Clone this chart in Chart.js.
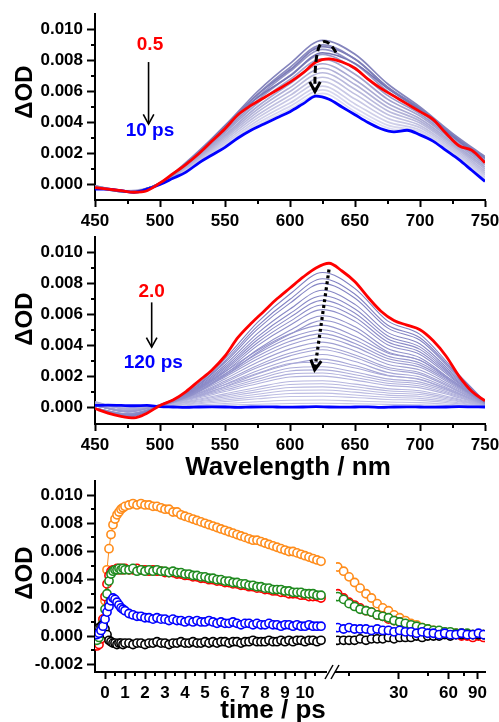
<!DOCTYPE html>
<html><head><meta charset="utf-8">
<script src="https://cdn.jsdelivr.net/npm/chart.js@4.4.0/dist/chart.umd.min.js"></script>
<style>
html,body{margin:0;padding:0;background:#fff;}
#wrap{position:relative;width:499px;height:722px;overflow:hidden;background:#fff;}
#wrap canvas{position:absolute;left:0;top:0;}
</style></head><body>
<div id="wrap">
<canvas id="c1" width="499" height="722"></canvas>
<canvas id="c2" width="499" height="722"></canvas>
<canvas id="c3" width="499" height="722"></canvas>
</div>
<script>
// ---------------- DATA ----------------
const wl10 = [450,460,470,480,490,500,510,520,530,540,550,560,570,580,590,600,610,620,630,640,650,660,670,680,690,700,710,720,730,740,750];
const wl25 = [450,475,500,525,550,575,600,625,650,675,700,725,750];
const wlTicks = [450,500,550,600,650,700,750];

// Panel 1: 0.5 ps (red) -> 10 ps (blue)
const p1Red05ps = [-0.0002,-0.0003,-0.0004,-0.0005,-0.0004,0.0001,0.0007,0.0013,0.0020,0.0028,0.0036,0.0045,0.0051,0.0056,0.0061,0.0066,0.0072,0.0079,0.0081,0.0079,0.0075,0.0068,0.0062,0.0057,0.0052,0.0047,0.0042,0.0033,0.0025,0.0022,0.0014];
const p1Blue10ps = [-0.0003,-0.0003,-0.0004,-0.0005,-0.0003,0.0000,0.0004,0.0008,0.0014,0.0019,0.0024,0.0030,0.0035,0.0039,0.0043,0.0047,0.0052,0.0057,0.0055,0.0050,0.0045,0.0040,0.0036,0.0034,0.0035,0.0032,0.0028,0.0022,0.0016,0.0009,0.0002];
const p1Gray = [
 [-0.0002,-0.0005,0.0001,0.0017,0.0037,0.0056,0.0070,0.0085,0.0078,0.0062,0.0048,0.0031,0.0015],
 [-0.0002,-0.0005,0.0001,0.0017,0.0038,0.0058,0.0074,0.0089,0.0081,0.0063,0.0049,0.0032,0.0017],
 [-0.0001,-0.0005,0.0001,0.0018,0.0038,0.0060,0.0078,0.0093,0.0084,0.0065,0.0050,0.0033,0.0018],
 [-0.0001,-0.00049,0.00009,0.00174,0.00369,0.00582,0.00755,0.00901,0.00809,0.00626,0.00486,0.00319,0.00167],
 [-0.0001,-0.00048,0.00008,0.00169,0.00358,0.00563,0.0073,0.00872,0.00778,0.00602,0.00471,0.00308,0.00154],
 [-0.0001,-0.00048,0.00008,0.00163,0.00345,0.00543,0.00703,0.0084,0.00743,0.00575,0.00455,0.00295,0.0014],
 [-0.0001,-0.00047,0.00007,0.00157,0.00334,0.00524,0.00678,0.00811,0.00711,0.00551,0.00441,0.00284,0.00127],
 [-0.0001,-0.00046,0.00006,0.00151,0.00321,0.00503,0.0065,0.00779,0.00676,0.00524,0.00424,0.00271,0.00113],
 [-0.0001,-0.00045,0.00005,0.00145,0.0031,0.00485,0.00625,0.0075,0.00645,0.005,0.0041,0.0026,0.001],
 [-0.0001,-0.00044,0.00004,0.00139,0.00299,0.00467,0.006,0.00721,0.00614,0.00476,0.00396,0.00249,0.00087],
 [-0.0001,-0.00043,0.00003,0.00134,0.00288,0.00448,0.00575,0.00692,0.00583,0.00452,0.00381,0.00238,0.00074],
 [-0.0001,-0.00043,0.00003,0.00128,0.00276,0.0043,0.00551,0.00664,0.00551,0.00428,0.00367,0.00226,0.00062],
 [-0.0001,-0.00042,0.00002,0.00123,0.00265,0.00411,0.00526,0.00635,0.0052,0.00404,0.00352,0.00215,0.00049],
 [-0.0001,-0.00041,0.00001,0.00118,0.00255,0.00395,0.00504,0.0061,0.00493,0.00383,0.0034,0.00205,0.00038],
 [-0.0001,-0.0004,0.00001,0.00114,0.00247,0.00382,0.00486,0.00588,0.0047,0.00365,0.00329,0.00197,0.00028]
];

// Panel 2: 2.0 ps (red) -> 120 ps (blue)
const p2Red2ps = [-0.0001,-0.0004,-0.0006,-0.0007,-0.0004,0.0001,0.00045,0.0010,0.0017,0.0024,0.0033,0.0045,0.0054,0.0062,0.0070,0.0077,0.0084,0.0090,0.0093,0.0088,0.0081,0.0071,0.0062,0.0056,0.0053,0.0050,0.0043,0.0033,0.0020,0.0010,0.0004];
const p2Blue120ps = [0.0001,0.00012,0.0001,0.00008,0.0001,0.00002,0.0000,-0.00002,0.0000,0.00001,0.0000,-0.00002,0.0000,0.00001,0.0000,-0.00001,0.0000,0.00002,0.0000,-0.00001,0.0000,0.00001,-0.00002,0.0000,0.00001,0.0000,-0.00001,0.0000,0.00002,0.00001,0.0000];
const p2Gray = [
 [-0.00009,-0.00066,0.00009,0.00122,0.00313,0.00548,0.00731,0.0087,0.00766,0.00557,0.0047,0.00252,0.00035],
 [-0.00008,-0.00063,0.00008,0.00116,0.00299,0.00523,0.00697,0.0083,0.0073,0.00531,0.00448,0.00241,0.00033],
 [-0.00008,-0.00061,0.00008,0.00112,0.00288,0.00504,0.00672,0.008,0.00704,0.00512,0.00432,0.00232,0.00032],
 [-0.00008,-0.00057,0.00008,0.00106,0.00272,0.00476,0.00634,0.00755,0.00664,0.00483,0.00408,0.00219,0.0003],
 [-0.00007,-0.00055,0.00007,0.00101,0.00259,0.00454,0.00605,0.0072,0.00634,0.00461,0.00389,0.00209,0.00029],
 [-0.00007,-0.00052,0.00007,0.00097,0.00248,0.00435,0.0058,0.0069,0.00607,0.00442,0.00373,0.002,0.00028],
 [-0.00007,-0.0005,0.00007,0.00092,0.00238,0.00416,0.00554,0.0066,0.00581,0.00422,0.00356,0.00191,0.00026],
 [-0.00006,-0.00048,0.00006,0.00088,0.00227,0.00397,0.00529,0.0063,0.00554,0.00403,0.0034,0.00183,0.00025],
 [-0.00006,-0.00045,0.00006,0.00083,0.00212,0.00372,0.00496,0.0059,0.00519,0.00378,0.00319,0.00171,0.00024],
 [-0.00006,-0.00043,0.00006,0.00078,0.00202,0.00353,0.0047,0.0056,0.00493,0.00358,0.00302,0.00162,0.00022],
 [0.00011,-0.00033,0.00016,0.00103,0.00228,0.00366,0.00474,0.0053,0.00458,0.0035,0.00302,0.0017,0.00024],
 [0.0001,-0.00032,0.00015,0.00098,0.00215,0.00345,0.00448,0.005,0.00433,0.0033,0.00285,0.0016,0.00023],
 [0.0001,-0.0003,0.00014,0.00093,0.00204,0.00328,0.00425,0.00475,0.00411,0.00314,0.00271,0.00152,0.00021],
 [0.00009,-0.00028,0.00014,0.00088,0.00194,0.00311,0.00403,0.0045,0.00389,0.00297,0.00257,0.00144,0.0002],
 [0.00008,-0.00026,0.00013,0.00082,0.00181,0.0029,0.00376,0.0042,0.00363,0.00277,0.00239,0.00134,0.00019],
 [0.00008,-0.00025,0.00012,0.00076,0.00168,0.00269,0.00349,0.0039,0.00337,0.00257,0.00222,0.00125,0.00018],
 [0.00007,-0.00023,0.00011,0.00072,0.00159,0.00255,0.00331,0.0037,0.0032,0.00244,0.00211,0.00118,0.00017],
 [0.00007,-0.00021,0.0001,0.00066,0.00146,0.00235,0.00304,0.0034,0.00294,0.00224,0.00194,0.00109,0.00015],
 [0.00006,-0.0002,0.00009,0.0006,0.00133,0.00214,0.00277,0.0031,0.00268,0.00205,0.00177,0.00099,0.00014],
 [0.00035,-0.00015,0.00015,0.00073,0.00145,0.00218,0.00281,0.0029,0.00252,0.00203,0.0018,0.00104,0.00015],
 [0.00031,-0.00013,0.00013,0.00065,0.0013,0.00195,0.00252,0.0026,0.00226,0.00182,0.00161,0.00094,0.00013],
 [0.00029,-0.00012,0.00012,0.0006,0.0012,0.0018,0.00233,0.0024,0.00209,0.00168,0.00149,0.00086,0.00012],
 [0.00026,-0.00011,0.00011,0.00055,0.0011,0.00165,0.00213,0.0022,0.00191,0.00154,0.00136,0.00079,0.00011],
 [0.00024,-0.0001,0.0001,0.0005,0.001,0.0015,0.00194,0.002,0.00174,0.0014,0.00124,0.00072,0.0001],
 [0.0002,-0.00009,0.00009,0.00043,0.00085,0.00128,0.00165,0.0017,0.00148,0.00119,0.00105,0.00061,0.00009],
 [0.00018,-0.00008,0.00008,0.00038,0.00075,0.00113,0.00146,0.0015,0.00131,0.00105,0.00093,0.00054,0.00008],
 [0.00016,-0.00007,0.00007,0.00033,0.00065,0.00098,0.00126,0.0013,0.00113,0.00091,0.00081,0.00047,0.00007],
 [0.00013,-0.00006,0.00006,0.00028,0.00055,0.00083,0.00107,0.0011,0.00096,0.00077,0.00068,0.0004,0.00006],
 [0.00011,-0.00005,0.00005,0.00023,0.00045,0.00068,0.00087,0.0009,0.00078,0.00063,0.00056,0.00032,0.00005],
 [0.00008,-0.00004,0.00004,0.00018,0.00035,0.00053,0.00068,0.0007,0.00061,0.00049,0.00043,0.00025,0.00004],
 [0.00005,-0.00002,0.00002,0.00011,0.00023,0.00034,0.00044,0.00045,0.00039,0.00032,0.00028,0.00016,0.00002],
 [0.00003,-0.00001,0.00001,0.00006,0.00012,0.00018,0.00023,0.00024,0.00021,0.00017,0.00015,0.00009,0.00001]
];

// Panel 3: kinetics (broken time axis)
const tLeft = [-0.4,-0.3,-0.2,-0.1,0,0.1,0.2,0.3,0.4,0.5,0.6,0.7,0.8,0.9,1.0,1.2,1.4,1.6,1.8,2.0,2.2,2.4,2.6,2.8,3.0,3.2,3.4,3.6,3.8,4.0,4.2,4.4,4.6,4.8,5.0,5.2,5.4,5.6,5.8,6.0,6.2,6.4,6.6,6.8,7.0,7.2,7.4,7.6,7.8,8.0,8.2,8.4,8.6,8.8,9.0,9.2,9.4,9.6,9.8,10.0,10.2,10.4,10.6,10.8];
const tRight = [12.8,13.9,15.0,16.2,17.5,19.0,20.5,22.2,24.0,26.0,28.1,30.4,32.9,35.6,38.5,41.6,45.0,48.7,52.7,57.0,61.6,66.7,72.1,78.0,84.4,91.3,98.0];
const timeTicksLeft = [0,1,2,3,4,5,6,7,8,9,10];
const timeTicksRight = [30,60,90];

const orangeLeft = [-0.0005,-0.0003,0.0002,0.0012,0.0025,0.0047,0.0062,0.0072,0.0079,0.0083,0.0086,0.0088,0.0090,0.0091,0.0092,
 0.0093,0.0094,0.0093,0.0094,0.0093,0.0093,0.0092,0.0092,0.0091,0.0090,0.0090,0.0088,0.0088,0.0086,0.0085,0.0084,0.0083,0.0082,0.0081,0.0080,0.0079,0.0078,0.0077,0.0076,0.0075,0.0074,0.0073,0.0072,0.0071,0.0070,0.0069,0.0068,0.0068,0.0067,0.0066,0.0065,0.0064,0.0063,0.0062,0.0061,0.0060,0.0060,0.0059,0.0058,0.0057,0.0056,0.0055,0.0054,0.0053];
const redLeft = [-0.0007,-0.0006,-0.0002,0.0012,0.0028,0.0037,0.0043,0.0046,0.0047,0.0047,0.0048,0.0047,0.0048,0.0047,0.0048,
 0.0047,0.0047,0.0048,0.0047,0.0047,0.0046,0.0047,0.0046,0.0046,0.0045,0.0045,0.0045,0.0044,0.0044,0.0043,0.0043,0.0042,0.0042,0.0041,0.0041,0.0040,0.0040,0.0039,0.0039,0.0038,0.0038,0.0037,0.0037,0.0036,0.0036,0.0035,0.0035,0.0034,0.0034,0.0033,0.0033,0.0032,0.0032,0.0031,0.0031,0.0030,0.0030,0.0030,0.0029,0.0029,0.0028,0.0028,0.0028,0.0027];
const greenLeft = [-0.0003,-0.0001,0.0002,0.0009,0.0019,0.0030,0.0039,0.0044,0.0046,0.0047,0.0047,0.0048,0.0047,0.0048,0.0047,
 0.0047,0.0048,0.0046,0.0047,0.0046,0.0047,0.0046,0.0047,0.0046,0.0046,0.0045,0.0046,0.0045,0.0045,0.0044,0.0044,0.0043,0.0043,0.0042,0.0042,0.0041,0.0041,0.0040,0.0040,0.0039,0.0039,0.0038,0.0038,0.0037,0.0037,0.0036,0.0036,0.0035,0.0035,0.0034,0.0034,0.0033,0.0033,0.0033,0.0032,0.0032,0.0031,0.0031,0.0031,0.0030,0.0030,0.0030,0.0029,0.0029];
const blueLeft = [0.0001,0.0002,0.0004,0.0007,0.0012,0.0017,0.0021,0.0025,0.0027,0.0026,0.0024,0.0022,0.0020,0.0019,0.0018,
 0.0016,0.0015,0.0014,0.0014,0.0013,0.0013,0.0012,0.0013,0.0012,0.0012,0.0011,0.0012,0.0011,0.0011,0.0010,0.0011,0.0010,0.0011,0.0010,0.0010,0.0011,0.0010,0.0009,0.0010,0.0009,0.0009,0.0010,0.0009,0.0008,0.0009,0.0009,0.0008,0.0009,0.0008,0.0008,0.0009,0.0008,0.0008,0.0007,0.0008,0.0008,0.0007,0.0008,0.0007,0.0007,0.0008,0.0007,0.0007,0.0007];
const blackLeft = [0.0005,0.0006,0.0007,0.0008,0.0005,0.0001,-0.0003,-0.0004,-0.0005,-0.0005,-0.0006,-0.0005,-0.0005,-0.0006,-0.0005,
 -0.0005,-0.0006,-0.0005,-0.0005,-0.0006,-0.0005,-0.0005,-0.0004,-0.0005,-0.0005,-0.0006,-0.0005,-0.0005,-0.0004,-0.0005,-0.0005,-0.0004,-0.0005,-0.0005,-0.0004,-0.0005,-0.0004,-0.0005,-0.0004,-0.0004,-0.0005,-0.0004,-0.0004,-0.0005,-0.0004,-0.0004,-0.0003,-0.0004,-0.0004,-0.0004,-0.0003,-0.0004,-0.0004,-0.0003,-0.0004,-0.0003,-0.0004,-0.0003,-0.0003,-0.0004,-0.0003,-0.0003,-0.0004,-0.0003];

const orangeRight = [0.0049,0.0046,0.0042,0.0038,0.0034,0.0030,0.0027,0.0023,0.0020,0.0018,0.0015,0.0013,0.0011,0.0009,0.0008,0.0006,0.0005,0.0004,0.0003,0.0003,0.0002,0.0002,0.0002,0.0001,0.0001,0.0001,0.0001];
const redRight = [0.0030,0.0027,0.0024,0.0022,0.0020,0.0018,0.0017,0.0015,0.0014,0.0012,0.0011,0.0010,0.0008,0.0007,0.0006,0.0005,0.0004,0.0003,0.0003,0.0002,0.0001,0.0001,0.0000,0.0000,-0.0001,0.0000,-0.0001];
const greenRight = [0.0028,0.0026,0.0023,0.0021,0.0019,0.0018,0.0017,0.0015,0.0014,0.0013,0.0011,0.0010,0.0009,0.0008,0.0007,0.0006,0.0005,0.0004,0.0004,0.0003,0.0003,0.0002,0.0002,0.0002,0.0001,0.0001,0.0001];
const blueRight = [0.0006,0.0005,0.0006,0.0005,0.0005,0.0005,0.0004,0.0005,0.0004,0.0004,0.0003,0.0004,0.0003,0.0003,0.0002,0.0003,0.0002,0.0002,0.0001,0.0002,0.0001,0.0001,0.0002,0.0001,0.0001,0.0002,0.0001];
const blackRight = [-0.0003,-0.0003,-0.0003,-0.0003,-0.0002,-0.0003,-0.0002,-0.0002,-0.0002,-0.0001,-0.0002,-0.0001,-0.0001,-0.0001,0.0000,-0.0001,0.0000,0.0000,0.0000,0.0001,0.0000,0.0001,0.0001,0.0001,0.0001,0.0001,0.0001];

const odTicksTop = [0,0.002,0.004,0.006,0.008,0.010];
const odTicksBottom = [-0.002,0,0.002,0.004,0.006,0.008,0.010];

// ---------------- RENDERING ----------------
const FONT = "'Liberation Sans', Arial, Helvetica, sans-serif";
const TICK_SIZE = 17;
Chart.defaults.font.family = FONT;
Chart.defaults.color = '#000';
Chart.defaults.animation = false;

const pts = (xs, ys) => xs.map((x, i) => ({x, y: ys[i]}));
const mix = (c0, c1, f) => 'rgb(' + c0.map((v, k) => Math.round(v + (c1[k] - v) * f)).join(',') + ')';

function txt(ctx, s, x, y, color, size, base) {
  ctx.save();
  ctx.font = 'bold ' + size + 'px ' + FONT;
  ctx.fillStyle = color; ctx.textAlign = 'center'; ctx.textBaseline = base || 'middle';
  ctx.fillText(s, x, y);
  ctx.restore();
}
function vText(ctx, s, x, y, size) {
  ctx.save();
  ctx.translate(x, y); ctx.rotate(-Math.PI / 2);
  ctx.font = 'bold ' + size + 'px ' + FONT;
  ctx.fillStyle = '#000'; ctx.textAlign = 'center'; ctx.textBaseline = 'middle';
  ctx.fillText(s, 0, 0);
  ctx.restore();
}
function minorX(ctx, sc, vals, len) {
  ctx.save(); ctx.strokeStyle = '#000'; ctx.lineWidth = 2;
  vals.forEach(v => { const p = Math.round(sc.getPixelForValue(v));
    ctx.beginPath(); ctx.moveTo(p, sc.top); ctx.lineTo(p, sc.top + len); ctx.stroke(); });
  ctx.restore();
}
function minorY(ctx, sc, vals, len) {
  ctx.save(); ctx.strokeStyle = '#000'; ctx.lineWidth = 2;
  vals.forEach(v => { const p = Math.round(sc.getPixelForValue(v));
    ctx.beginPath(); ctx.moveTo(sc.right, p); ctx.lineTo(sc.right - len, p); ctx.stroke(); });
  ctx.restore();
}
function head(ctx, tx, ty, ang, len, half, lw) {
  ctx.save(); ctx.setLineDash([]); ctx.lineWidth = lw; ctx.strokeStyle = '#000';
  ctx.beginPath();
  ctx.moveTo(tx - len * Math.cos(ang - half), ty - len * Math.sin(ang - half));
  ctx.lineTo(tx, ty);
  ctx.lineTo(tx - len * Math.cos(ang + half), ty - len * Math.sin(ang + half));
  ctx.stroke(); ctx.restore();
}
function downArrow(ctx, x, y1, y2) {
  ctx.save(); ctx.strokeStyle = '#000'; ctx.lineWidth = 1.6;
  ctx.beginPath(); ctx.moveTo(x, y1); ctx.lineTo(x, y2); ctx.stroke(); ctx.restore();
  head(ctx, x, y2, Math.PI / 2, 11, 0.5, 1.6);
}

function yAxis(min, max, majors) {
  return {
    type: 'linear', position: 'left', min, max,
    afterFit(s) { s.width = 95; s.paddingTop = 0; s.paddingBottom = 0; },
    afterBuildTicks(s) { s.ticks = majors.map(v => ({value: v})); },
    ticks: { callback: v => Number(v).toFixed(3), font: {size: TICK_SIZE, weight: 'bold'}, padding: 4, autoSkip: false, color: '#000' },
    grid: { drawOnChartArea: false, drawTicks: true, tickLength: 8, tickWidth: 2, tickColor: '#000' },
    border: { display: true, width: 2, color: '#000' }
  };
}
function xAxis(extra, majors) {
  return Object.assign({
    type: 'linear', position: 'bottom',
    afterFit(s) { s.height = 30; s.paddingLeft = 0; s.paddingRight = 0; },
    afterBuildTicks(s) { s.ticks = majors.map(v => ({value: v})); },
    ticks: { callback: v => String(v), font: {size: TICK_SIZE, weight: 'bold'}, padding: 4, maxRotation: 0, autoSkip: false, color: '#000' },
    grid: { drawOnChartArea: false, drawTicks: true, tickLength: 7, tickWidth: 2, tickColor: '#000' },
    border: { display: true, width: 2, color: '#000' }
  }, extra);
}
const baseOpts = (padTop, padBottom) => ({
  responsive: false, animation: false, devicePixelRatio: 1, events: [],
  layout: { padding: { left: 0, right: 14, top: padTop, bottom: padBottom } },
  plugins: { legend: { display: false }, tooltip: { enabled: false } }
});

function specDatasets(red, blue, grays, g0, g1, gw) {
  const ds = [
    { data: pts(wl10, red), borderColor: '#ff0000', borderWidth: 2.8, pointRadius: 0, cubicInterpolationMode: 'monotone', order: 0 },
    { data: pts(wl10, blue), borderColor: '#0000ff', borderWidth: 2.8, pointRadius: 0, cubicInterpolationMode: 'monotone', order: 1 }
  ];
  grays.forEach((g, i) => ds.push({
    data: pts(wl25, g), borderColor: mix(g0, g1, i / (grays.length - 1)), borderWidth: gw,
    pointRadius: 0, cubicInterpolationMode: 'monotone', order: 2 + i
  }));
  return ds;
}

// ---- Panel 1 ----
const deco1 = { id: 'deco1', afterDraw(chart) {
  const {ctx, scales: {x, y}} = chart;
  minorX(ctx, x, [475,525,575,625,675,725], 4);
  minorY(ctx, y, [0.001,0.003,0.005,0.007,0.009], 4);
  vText(ctx, '\u0394OD', 25.5, 92, 24);
  txt(ctx, '0.5', x.getPixelForValue(492.3), y.getPixelForValue(0.0090), '#ff0000', 19);
  downArrow(ctx, x.getPixelForValue(491.2), y.getPixelForValue(0.0079), y.getPixelForValue(0.0039));
  txt(ctx, '10 ps', x.getPixelForValue(492.3), y.getPixelForValue(0.00345), '#0000ff', 19);
  const P = (l, v) => [x.getPixelForValue(l), y.getPixelForValue(v)];
  const p0 = P(635.4, 0.00852), c1 = P(627.7, 0.00961), c2 = P(618.5, 0.00990), p3 = P(619.2, 0.0060);
  ctx.save(); ctx.strokeStyle = '#000'; ctx.lineWidth = 3; ctx.setLineDash([7, 4]);
  ctx.beginPath(); ctx.moveTo(p0[0], p0[1]); ctx.bezierCurveTo(c1[0], c1[1], c2[0], c2[1], p3[0], p3[1]); ctx.stroke();
  ctx.restore();
  head(ctx, p3[0], p3[1], Math.PI / 2, 11, 0.5, 3);
}};
new Chart(document.getElementById('c1'), {
  type: 'line',
  data: { datasets: specDatasets(p1Red05ps, p1Blue10ps, p1Gray, [118,118,180], [222,222,242], 1.7) },
  options: Object.assign(baseOpts(14, 492), {
    scales: { x: xAxis({min: 450, max: 750}, wlTicks), y: yAxis(-0.001, 0.011, odTicksTop) }
  }),
  plugins: [deco1]
});

// ---- Panel 2 ----
const deco2 = { id: 'deco2', afterDraw(chart) {
  const {ctx, chartArea: a, scales: {x, y}} = chart;
  minorX(ctx, x, [475,525,575,625,675,725], 4);
  minorY(ctx, y, [0.001,0.003,0.005,0.007,0.009], 4);
  vText(ctx, '\u0394OD', 25.5, 319, 24);
  txt(ctx, '2.0', x.getPixelForValue(493.6), y.getPixelForValue(0.00748), '#ff0000', 19);
  downArrow(ctx, x.getPixelForValue(493.6), y.getPixelForValue(0.00677), y.getPixelForValue(0.00387));
  txt(ctx, '120 ps', x.getPixelForValue(494.8), y.getPixelForValue(0.00284), '#0000ff', 19);
  const sx = x.getPixelForValue(630), sy = y.getPixelForValue(0.0089);
  const ex = x.getPixelForValue(619), ey = y.getPixelForValue(0.0024);
  ctx.save(); ctx.strokeStyle = '#000'; ctx.lineWidth = 3.2; ctx.setLineDash([3, 3]);
  ctx.beginPath(); ctx.moveTo(sx, sy); ctx.lineTo(ex, ey); ctx.stroke(); ctx.restore();
  head(ctx, ex, ey, Math.atan2(ey - sy, ex - sx), 11, 0.5, 3);
  txt(ctx, 'Wavelength / nm', (a.left + a.right) / 2 - 2, a.bottom + 51, '#000', 26, 'alphabetic');
}};
new Chart(document.getElementById('c2'), {
  type: 'line',
  data: { datasets: specDatasets(p2Red2ps, p2Blue120ps, p2Gray, [128,128,194], [196,196,230], 1.1) },
  options: Object.assign(baseOpts(237, 268), {
    scales: { x: xAxis({min: 450, max: 750}, wlTicks), y: yAxis(-0.0011, 0.011, odTicksTop) }
  }),
  plugins: [deco2]
});

// ---- Panel 3 ----
function kin(xs, ys, color, axis, order) {
  return { data: pts(xs, ys), xAxisID: axis, yAxisID: 'y', borderColor: color, borderWidth: 1,
    pointRadius: 4.1, pointBorderWidth: 1.6, pointBorderColor: color, pointBackgroundColor: '#fff',
    pointStyle: 'circle', showLine: true, tension: 0, order };
}
const deco3 = { id: 'deco3', afterDraw(chart) {
  const {ctx, chartArea: a, scales: {x, x2, y}} = chart;
  minorX(ctx, x, [0.5,1.5,2.5,3.5,4.5,5.5,6.5,7.5,8.5,9.5,10.5], 4);
  minorX(ctx, x2, [15,45,75], 4);
  minorY(ctx, y, [-0.001,0.001,0.003,0.005,0.007,0.009], 4);
  vText(ctx, '\u0394OD', 25.5, 573, 24);
  txt(ctx, 'time / ps', 273, 718, '#000', 26, 'alphabetic');
  ctx.save(); ctx.strokeStyle = '#000'; ctx.lineWidth = 1.5;
  [x.right + 3, x.right + 9].forEach(cx => { ctx.beginPath(); ctx.moveTo(cx - 4, a.bottom + 7); ctx.lineTo(cx + 4, a.bottom - 7); ctx.stroke(); });
  ctx.restore();
}};
new Chart(document.getElementById('c3'), {
  type: 'line',
  data: { datasets: [
    kin(tLeft, blueLeft, '#0000ff', 'x', 1), kin(tRight, blueRight, '#0000ff', 'x2', 1),
    kin(tLeft, blackLeft, '#000000', 'x', 2), kin(tRight, blackRight, '#000000', 'x2', 2),
    kin(tLeft, greenLeft, '#1f8a1f', 'x', 3), kin(tRight, greenRight, '#1f8a1f', 'x2', 3),
    kin(tLeft, redLeft, '#ff0000', 'x', 4), kin(tRight, redRight, '#ff0000', 'x2', 4),
    kin(tLeft, orangeLeft, '#ff8c1a', 'x', 5), kin(tRight, orangeRight, '#ff8c1a', 'x2', 5)
  ] },
  options: Object.assign(baseOpts(481, 20), {
    scales: {
      x: xAxis({min: -0.5, max: 11.05, stack: 'time', stackWeight: 231}, timeTicksLeft),
      xgap: { type: 'linear', position: 'bottom', stack: 'time', stackWeight: 10, min: 0, max: 1,
        afterFit(s) { s.height = 30; s.paddingLeft = 0; s.paddingRight = 0; },
        grid: { display: false }, border: { display: false }, ticks: { display: false } },
      x2: xAxis({type: 'logarithmic', min: 12.5, max: 100, stack: 'time', stackWeight: 149}, timeTicksRight),
      y: yAxis(-0.00255, 0.011, odTicksBottom)
    }
  }),
  plugins: [deco3]
});
</script>
</body></html>
